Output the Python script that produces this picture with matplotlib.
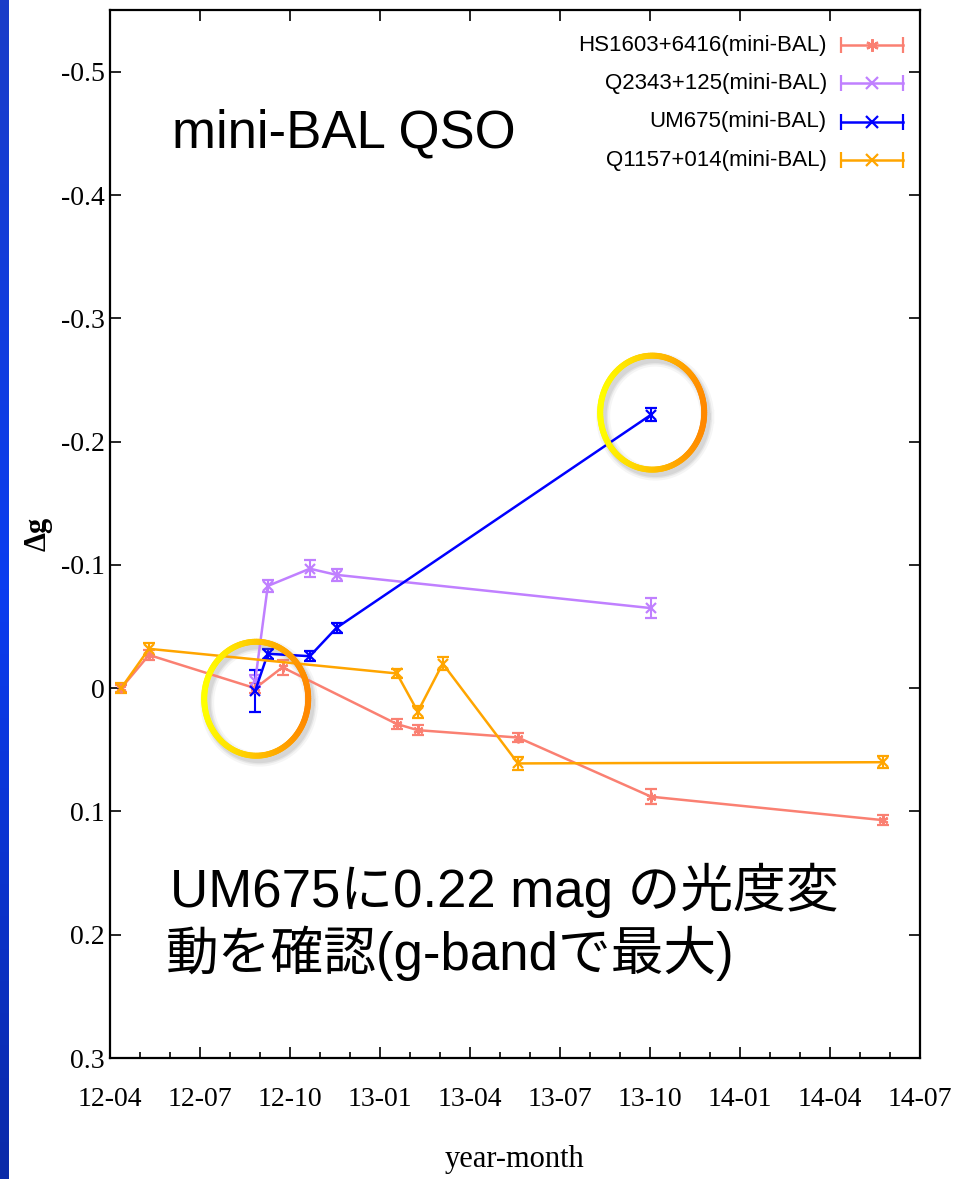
import numpy as np
import matplotlib
matplotlib.use("Agg")
import matplotlib.pyplot as plt
from matplotlib import font_manager
from matplotlib.collections import LineCollection
from matplotlib.colors import LinearSegmentedColormap
from matplotlib.transforms import IdentityTransform

# x = months since 2012-04
tick_pos = [0, 3, 6, 9, 12, 15, 18, 21, 24, 27]
tick_labels = ['12-04', '12-07', '12-10', '13-01', '13-04', '13-07',
               '13-10', '14-01', '14-04', '14-07']
ytick_pos = [-0.5, -0.4, -0.3, -0.2, -0.1, 0, 0.1, 0.2, 0.3]
ytick_labels = ['-0.5', '-0.4', '-0.3', '-0.2', '-0.1', '0', '0.1', '0.2', '0.3']

names = ['HS1603+6416(mini-BAL)', 'Q2343+125(mini-BAL)',
         'UM675(mini-BAL)', 'Q1157+014(mini-BAL)']
colors = ['#fa8072', '#c080ff', '#0000ff', '#ffa500']

hs_month = [0.37, 1.30, 4.84, 5.75, 9.56, 10.26, 13.6, 18.04, 25.76]
hs_dg = [0.0, -0.027, 0.0, -0.017, 0.029, 0.034, 0.040, 0.088, 0.107]
hs_err = [0.003, 0.004, 0.004, 0.006, 0.004, 0.004, 0.004, 0.006, 0.004]

q2343_month = [4.84, 5.26, 6.66, 7.55, 18.04]
q2343_dg = [-0.006, -0.083, -0.097, -0.092, -0.065]
q2343_err = [0.005, 0.005, 0.007, 0.005, 0.008]

um_month = [4.84, 5.26, 6.66, 7.55, 18.04]
um_dg = [0.002, -0.028, -0.026, -0.049, -0.222]
um_err = [0.017, 0.004, 0.004, 0.004, 0.005]

q1157_month = [0.37, 1.30, 9.56, 10.26, 11.09, 13.6, 25.76]
q1157_dg = [0.0, -0.032, -0.012, 0.019, -0.020, 0.061, 0.060]
q1157_err = [0.004, 0.005, 0.004, 0.005, 0.005, 0.005, 0.005]

series = [(hs_month, hs_dg, hs_err), (q2343_month, q2343_dg, q2343_err),
          (um_month, um_dg, um_err), (q1157_month, q1157_dg, q1157_err)]
markers = [(6, 2, 0), 'x', 'x', 'x']

installed = {f.name for f in font_manager.fontManager.ttflist}
narrow = 'Liberation Sans Narrow' if 'Liberation Sans Narrow' in installed else 'Liberation Sans'
serif = 'Liberation Serif'

fig = plt.figure(figsize=(9.55, 11.79), dpi=100)
ax = fig.add_axes([110 / 955, 1 - 1058 / 1179, 810 / 955, 1048 / 1179])

for (xs, ys, es), c, m in zip(series, colors, markers):
    ax.errorbar(xs, ys, yerr=es, color=c, lw=1.8, marker=m, ms=7, mew=1.6,
                capsize=4, elinewidth=1.5, capthick=1.5)

ax.set_xlim(0, 27)
ax.set_ylim(0.3, -0.5503)
ax.set_xticks(tick_pos)
ax.set_xticklabels(tick_labels, family=serif, fontsize=20)
ax.set_xticks(np.arange(0, 28, 1), minor=True)
ax.set_yticks(ytick_pos)
ax.set_yticklabels(ytick_labels, family=serif, fontsize=20)
ax.tick_params(which='major', direction='in', top=True, right=True, width=1.2, length=8)
ax.tick_params(which='minor', direction='in', top=False, right=False, width=1.2, length=4)
ax.tick_params(axis='x', which='major', pad=21)
ax.tick_params(axis='y', which='major', pad=4)
for s in ax.spines.values():
    s.set_linewidth(1.6)

ax.set_xlabel('year-month', family=serif, fontsize=22, labelpad=24)
ax.set_ylabel('Δg', family=serif, fontsize=22, fontweight='bold', labelpad=6)

# legend drawn gnuplot-style: text right-aligned, sample with error caps
for i, (name, c, m) in enumerate(zip(names, colors, markers)):
    yy = 0.9666 - i * 0.0366
    ax.text(0.885, yy, name, transform=ax.transAxes, ha='right', va='center',
            family=narrow, fontsize=16)
    ax.plot([0.902, 0.979], [yy, yy], transform=ax.transAxes, color=c, lw=1.8,
            marker='|', ms=12, mew=1.6, clip_on=False)
    ax.plot([0.9405], [yy], transform=ax.transAxes, color=c, marker=m, ms=9,
            mew=1.6, ls='none', clip_on=False)

jp = ['Liberation Sans', 'Noto Sans CJK JP', 'DejaVu Sans']
ax.text(172 / 955, 1 - 148 / 1179, 'mini-BAL QSO', transform=fig.transFigure,
        family=jp, fontsize=38, ha='left', va='baseline')
ax.text(170 / 955, 1 - 907 / 1179, 'UM675に0.22 mag の光度変', transform=fig.transFigure,
        family=jp, fontsize=38, ha='left', va='baseline')
ax.text(166 / 955, 1 - 970 / 1179, '動を確認(g-bandで最大)', transform=fig.transFigure,
        family=jp, fontsize=38, ha='left', va='baseline')

# highlight rings around UM675 first and last points
ring_cmap = LinearSegmentedColormap.from_list('ring', ['#ffff00', '#ffc400', '#ff8800'])
def ring(px, py, rx=52, ry=57):
    t = np.linspace(0, 2 * np.pi, 181)
    xs = px + rx * np.cos(t)
    ys = py + ry * np.sin(t)
    for lw, a in [(10, 0.08), (7, 0.12), (5, 0.15)]:
        ax.add_artist(plt.Line2D(xs + 3, ys - 4, lw=lw, color='gray', alpha=a,
                                 transform=IdentityTransform(), clip_on=False))
    pts = np.column_stack([xs, ys]).reshape(-1, 1, 2)
    segs = np.concatenate([pts[:-1], pts[1:]], axis=1)
    lc = LineCollection(segs, cmap=ring_cmap, linewidths=4.3,
                        transform=IdentityTransform(), clip_on=False, capstyle='round')
    lc.set_array((np.cos(t[:-1] + np.pi / 360) + 1) / 2)
    fig.add_artist(lc)

fig.canvas.draw()
p0 = ax.transData.transform((um_month[0], um_dg[0]))
p1 = ax.transData.transform((um_month[-1], um_dg[-1]))
ring(p0[0] + 1, p0[1] - 8)
ring(p1[0] + 1, p1[1] + 2)

# blue strip at left edge
sax = fig.add_axes([0, 0, 8 / 955, 1])
grad = np.linspace(0, 1, 256)[:, None]
strip = LinearSegmentedColormap.from_list('strip', ['#1a3cc8', '#0a3cf0', '#0a2aa8'])
sax.imshow(grad, aspect='auto', cmap=strip)
sax.axis('off')

fig.savefig('out.png', dpi=100)
